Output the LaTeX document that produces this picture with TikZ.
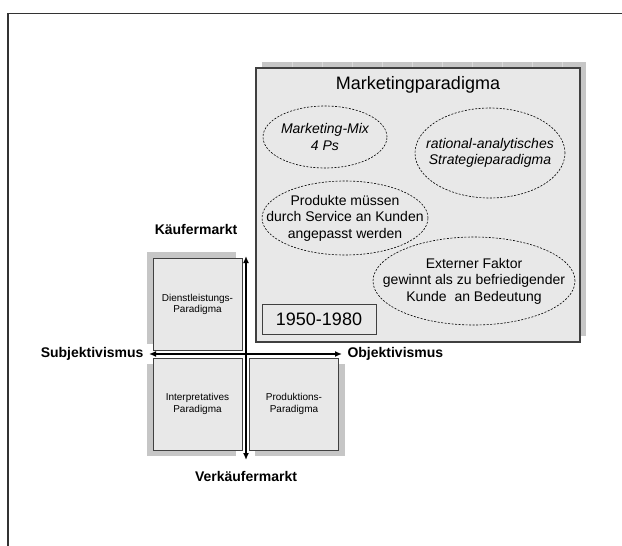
\documentclass[tikz,border=0pt]{standalone}
\usepackage{fontspec}
\setmainfont{Liberation Sans}
\usetikzlibrary{shapes.geometric,arrows.meta}

\tikzset{
  quad/.style={draw=black!75,line width=0.9pt,fill=gray!18,minimum width=89pt,
    minimum height=92pt,inner sep=0pt,align=center,font=\fontsize{10}{11.5}\selectfont},
  shadowfill/.style={fill=gray!45},
  idea/.style={ellipse,draw,dash pattern=on 2pt off 1.5pt,line width=0.6pt,inner sep=0pt},
  ideatext/.style={align=center,font=\fontsize{14}{16.5}\selectfont},
  axis/.style={line width=2.2pt,{Latex[length=7pt,width=6pt]}-{Latex[length=7pt,width=6pt]}},
  axislabel/.style={font=\fontsize{14}{16}\selectfont\bfseries}
}

\begin{document}
\begin{tikzpicture}[x=1pt,y=-1pt]
    \useasboundingbox (0,0) rectangle (622,546);
    % frame
    \draw[line width=1.6pt,black!80] (8,546) -- (8,13.5) -- (622,13.5);
    % shadows
    \fill[shadowfill] (262,62) rectangle (586,336);
    \fill[shadowfill] (147,252) rectangle (236,344);
    \fill[shadowfill] (147,364) rectangle (236,456);
    \fill[shadowfill] (255,364) rectangle (345,456);
    \foreach \x in {292,322,...,586}
      \draw[gray!30,line width=0.4pt] (\x,62) -- (\x,68);
    % marketing paradigm
    \node[draw=black!75,line width=1.2pt,fill=gray!18,minimum width=324pt,minimum height=274pt,
      inner sep=0pt] (mkt) at (418,205) {};
    \node[font=\fontsize{18}{20}\selectfont] (mkttitle) at (418,85) {Marketingparadigma};
    \node[idea,minimum width=124pt,minimum height=62pt] (mix) at (325,137) {};
    \node[ideatext,font=\fontsize{14}{16.5}\selectfont\itshape] (mixtext) at (mix) {Marketing-Mix\\4 Ps};
    \node[idea,minimum width=150pt,minimum height=90pt] (ratio) at (490,153) {};
    \node[ideatext,font=\fontsize{14}{16.5}\selectfont\itshape] (ratiotext) at (ratio) {rational-analytisches\\Strategieparadigma};
    \node[idea,minimum width=166pt,minimum height=74pt] (prod) at (345,218) {};
    \node[ideatext] (prodtext) at (prod) {Produkte müssen\\durch Service an Kunden\\angepasst werden};
    \node[idea,minimum width=202pt,minimum height=88pt] (ext) at (474,281) {};
    \node[ideatext] (exttext) at (ext) {Externer Faktor\\gewinnt als zu befriedigender\\Kunde~ an Bedeutung};
    \node[draw=black!75,line width=0.9pt,minimum width=114pt,minimum height=30pt,inner sep=0pt,
      font=\fontsize{18}{20}\selectfont] (years) at (319,319) {1950-1980};
    % quadrants
    \node[quad] (dienst) at (197.5,304.5) {Dienstleistungs-\\Paradigma};
    \node[quad] (interp) at (197.5,404) {Interpretatives\\Paradigma};
    \node[quad] (produkt) at (294,404) {Produktions-\\Paradigma};
    % axes
    \coordinate (ktop) at (246,256);
    \coordinate (kbot) at (246,460);
    \coordinate (sleft) at (149,354);
    \coordinate (oright) at (342,354);
    \draw[axis] (sleft) -- (oright);
    \draw[axis] (kbot) -- (ktop);
    \node[axislabel] (kaeufer) at (196,229) {Käufermarkt};
    \node[axislabel] (verkaeufer) at (246,476) {Verkäufermarkt};
    \node[axislabel,anchor=east] (subj) at (147,354) {Subjektivismus};
    \node[axislabel,anchor=west] (obj) at (344,354) {Objektivismus};
\end{tikzpicture}
\end{document}
